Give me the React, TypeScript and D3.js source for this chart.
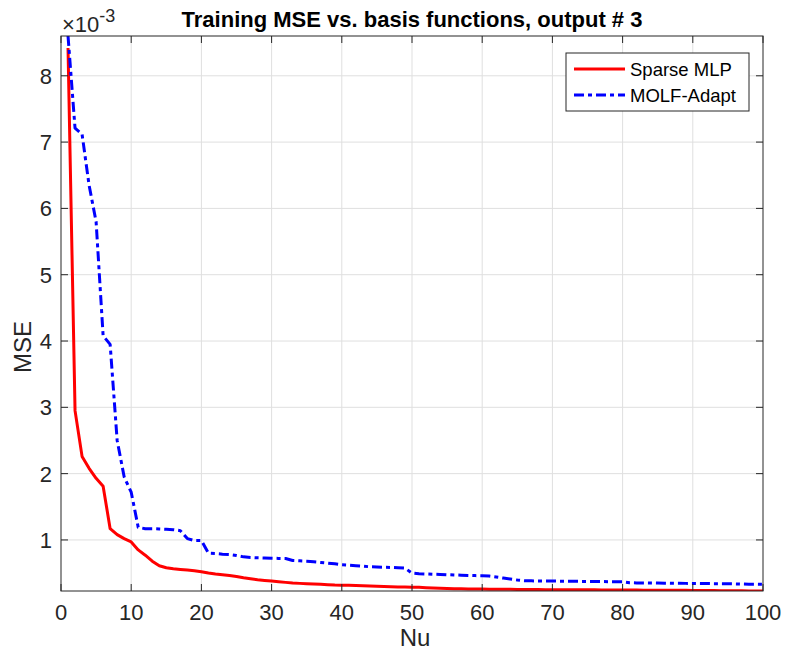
import React from "react";
import * as d3 from "d3";

// Number of basis functions (Nu)
const nu: number[] = Array.from({ length: 100 }, (_, i) => i + 1);

// Training MSE, in units of 1e-3
const sparseMLP: number[] = [
  8.42, 2.95, 2.26, 2.08, 1.93, 1.81, 1.17, 1.08, 1.02, 0.97,
  0.85, 0.77, 0.68, 0.61, 0.58, 0.565, 0.555, 0.545, 0.535, 0.52,
  0.5, 0.485, 0.475, 0.465, 0.45, 0.43, 0.415, 0.4, 0.39, 0.38,
  0.37, 0.36, 0.35, 0.345, 0.34, 0.335, 0.33, 0.325, 0.32, 0.318,
  0.315, 0.312, 0.31, 0.306, 0.302, 0.298, 0.295, 0.292, 0.29, 0.288,
  0.285, 0.28, 0.276, 0.272, 0.268, 0.265, 0.263, 0.261, 0.26, 0.259,
  0.258, 0.257, 0.256, 0.255, 0.254, 0.253, 0.252, 0.251, 0.25, 0.25,
  0.249, 0.249, 0.248, 0.248, 0.247, 0.247, 0.246, 0.246, 0.245, 0.245,
  0.244, 0.244, 0.243, 0.243, 0.242, 0.241, 0.241, 0.24, 0.24, 0.239,
  0.238, 0.237, 0.236, 0.235, 0.234, 0.233, 0.232, 0.231, 0.231, 0.23,
];

const molfAdapt: number[] = [
  8.6, 7.21, 7.12, 6.35, 5.8, 4.08, 3.95, 2.5, 1.95, 1.72,
  1.19, 1.17, 1.17, 1.165, 1.16, 1.155, 1.14, 1.02, 0.99, 0.99,
  0.8, 0.795, 0.785, 0.78, 0.765, 0.745, 0.735, 0.73, 0.728, 0.725,
  0.722, 0.72, 0.69, 0.685, 0.68, 0.67, 0.66, 0.65, 0.64, 0.625,
  0.62, 0.612, 0.605, 0.595, 0.592, 0.588, 0.585, 0.58, 0.575, 0.5,
  0.49, 0.487, 0.483, 0.48, 0.475, 0.472, 0.468, 0.465, 0.462, 0.46,
  0.455, 0.44, 0.425, 0.41, 0.395, 0.385, 0.383, 0.382, 0.38, 0.38,
  0.378, 0.377, 0.376, 0.375, 0.374, 0.373, 0.372, 0.371, 0.37, 0.37,
  0.355, 0.352, 0.351, 0.35, 0.349, 0.348, 0.347, 0.346, 0.345, 0.345,
  0.343, 0.342, 0.341, 0.34, 0.339, 0.337, 0.335, 0.333, 0.332, 0.33,
];

const xTicks: number[] = [0, 10, 20, 30, 40, 50, 60, 70, 80, 90, 100];
const yTicks: number[] = [1, 2, 3, 4, 5, 6, 7, 8];
const seriesNames: string[] = ["Sparse MLP", "MOLF-Adapt"];

const W = 785;
const H = 658;
const M = { left: 61, right: 22, top: 36, bottom: 67 };
const FONT = "'Liberation Sans', Arial, Helvetica, sans-serif";
const AX = "#262626";

export default function App() {
  const x = d3.scaleLinear().domain([0, 100]).range([M.left, W - M.right]);
  const y = d3.scaleLinear().domain([0.23, 8.6]).range([H - M.bottom, M.top]);
  const [x0, x1] = x.range();
  const [y0, y1] = y.range();

  const line = d3
    .line<number>()
    .x((_, i) => x(nu[i]))
    .y((d) => y(d));

  const tickLen = 7;

  return (
    <svg
      width={W}
      height={H}
      style={{ position: "absolute", left: 0, top: 0, background: "#fff" }}
      fontFamily={FONT}
    >
      <defs>
        <clipPath id="plot">
          <rect x={x0} y={y1} width={x1 - x0} height={y0 - y1} />
        </clipPath>
      </defs>
      <rect x={0} y={0} width={W} height={H} fill="#fff" />
      {/* grid */}
      <g stroke="#dfdfdf" strokeWidth={1}>
        {xTicks.slice(1, -1).map((t) => (
          <line key={"gx" + t} x1={x(t)} x2={x(t)} y1={y1} y2={y0} />
        ))}
        {yTicks.map((t) => (
          <line key={"gy" + t} x1={x0} x2={x1} y1={y(t)} y2={y(t)} />
        ))}
      </g>
      {/* lines */}
      <g clipPath="url(#plot)" fill="none" strokeWidth={3}>
        <path d={line(sparseMLP) || ""} stroke="#ff0000" strokeLinejoin="round" />
        <path
          d={line(molfAdapt) || ""}
          stroke="#0000ff"
          strokeDasharray="10 4 4 4"
          strokeLinejoin="round"
        />
      </g>
      {/* box and ticks */}
      <g stroke={AX} strokeWidth={1} fill="none">
        <rect x={x0} y={y1} width={x1 - x0} height={y0 - y1} />
        {xTicks.map((t) => (
          <g key={"tx" + t}>
            <line x1={x(t)} x2={x(t)} y1={y0} y2={y0 - tickLen} />
            <line x1={x(t)} x2={x(t)} y1={y1} y2={y1 + tickLen} />
          </g>
        ))}
        {yTicks.map((t) => (
          <g key={"ty" + t}>
            <line x1={x0} x2={x0 + tickLen} y1={y(t)} y2={y(t)} />
            <line x1={x1} x2={x1 - tickLen} y1={y(t)} y2={y(t)} />
          </g>
        ))}
      </g>
      {/* tick labels */}
      <g fill={AX} fontSize={22}>
        {xTicks.map((t) => (
          <text key={"lx" + t} x={x(t)} y={y0 + 29} textAnchor="middle">
            {t}
          </text>
        ))}
        {yTicks.map((t) => (
          <text key={"ly" + t} x={x0 - 9} y={y(t) + 8} textAnchor="end">
            {t}
          </text>
        ))}
      </g>
      {/* exponent */}
      <text x={x0 + 1} y={y1 - 4} fill={AX} fontSize={22}>
        ×10
        <tspan dy={-10} fontSize={18}>
          -3
        </tspan>
      </text>
      {/* title */}
      <text
        x={(x0 + x1) / 2}
        y={27}
        textAnchor="middle"
        fontWeight="bold"
        fontSize={22}
        fill="#000"
      >
        Training MSE vs. basis functions, output # 3
      </text>
      {/* axis labels */}
      <text x={(x0 + x1) / 2 + 3} y={646} textAnchor="middle" fontSize={24} fill={AX}>
        Nu
      </text>
      <text
        transform={`translate(31, 347) rotate(-90)`}
        textAnchor="middle"
        fontSize={24}
        fill={AX}
      >
        MSE
      </text>
      {/* legend */}
      <g>
        <rect x={566} y={53} width={183} height={58} fill="#fff" stroke={AX} strokeWidth={1} />
        <line x1={574} x2={625} y1={69} y2={69} stroke="#ff0000" strokeWidth={3} />
        <line
          x1={574}
          x2={625}
          y1={95}
          y2={95}
          stroke="#0000ff"
          strokeWidth={3}
          strokeDasharray="10 4 4 4"
        />
        <text x={630} y={75.5} fontSize={18.5} fill="#000">
          {seriesNames[0]}
        </text>
        <text x={630} y={101.5} fontSize={18.5} fill="#000">
          {seriesNames[1]}
        </text>
      </g>
    </svg>
  );
}
